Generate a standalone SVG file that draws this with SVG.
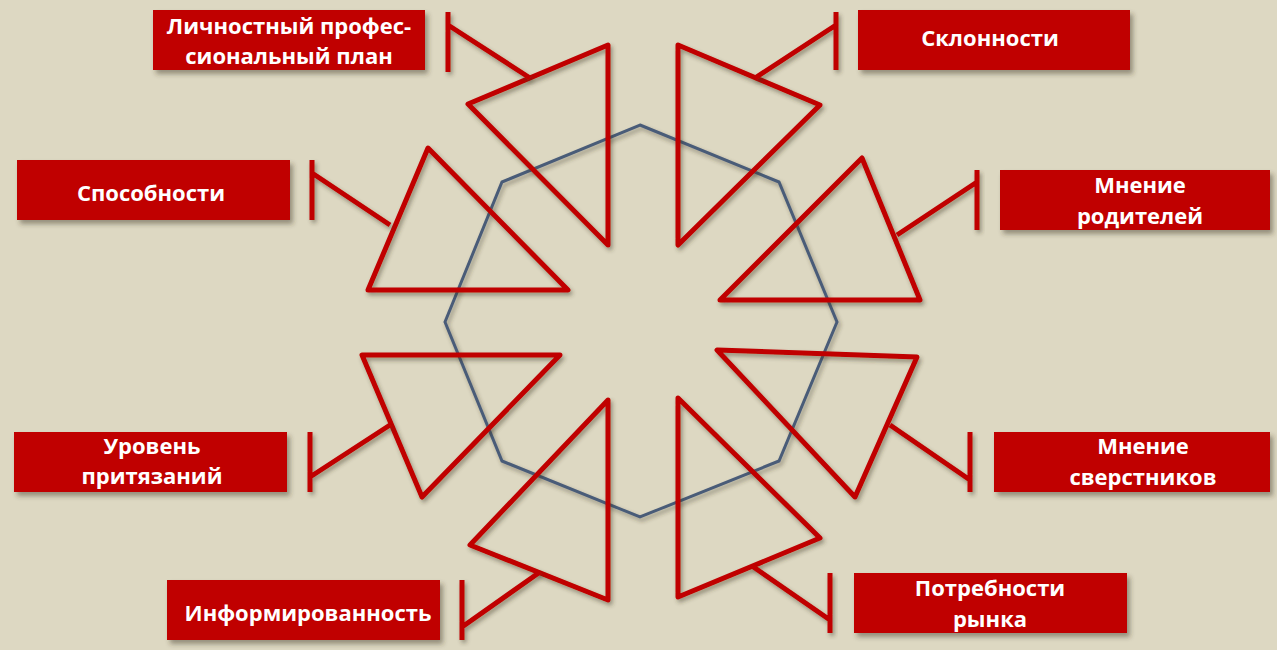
<svg xmlns="http://www.w3.org/2000/svg" width="1277" height="650" viewBox="0 0 1277 650">
<defs>
<filter id="sh" x="-20%" y="-20%" width="140%" height="140%">
<feDropShadow dx="3" dy="4" stdDeviation="2.5" flood-color="#3a3020" flood-opacity="0.45"/>
</filter>
<filter id="lsh" x="-10%" y="-10%" width="120%" height="120%">
<feDropShadow dx="2" dy="3" stdDeviation="2" flood-color="#3a3020" flood-opacity="0.45"/>
</filter>
</defs>
<style>
.box{fill:#C00000;filter:url(#sh)}
.lbl{fill:#FFFFFF;font-family:"Open Sans","Liberation Sans",sans-serif;font-weight:bold;font-size:22px;text-anchor:middle}
.tri{fill:none;stroke:#C00000;stroke-width:5;stroke-linejoin:round;filter:url(#lsh)}
.con{fill:none;stroke:#C00000;stroke-width:5;filter:url(#lsh)}
.oct{fill:none;stroke:#4A5C78;stroke-width:3;filter:url(#lsh)}
</style>
<rect width="1277" height="650" fill="#DDD8C2"/>
<g id="hub">
<polygon class="oct" points="640,125 779,182 837,322 779,461 640,517 502,461 445,322 502,182"/>
<polygon class="tri" points="468,104 608,45 608,245"/>
<polygon class="tri" points="678,45 820,105 678,245"/>
<polygon class="tri" points="862,158 920,300 720,300"/>
<polygon class="tri" points="717,350 917,357 855,497"/>
<polygon class="tri" points="678,398 820,538 678,597"/>
<polygon class="tri" points="608,400 470,545 608,600"/>
<polygon class="tri" points="362,355 560,355 422,497"/>
<polygon class="tri" points="428,148 568,290 368,290"/>
</g>
<g id="connectors">
<path class="con" d="M448,12 V72 M448,25 L530,78"/>
<path class="con" d="M836,12 V70 M836,25 L755,78"/>
<path class="con" d="M977,170 V230 M977,182 L897,235"/>
<path class="con" d="M970,432 V492 M970,480 L890,425"/>
<path class="con" d="M830,573 V633 M830,620 L752,566"/>
<path class="con" d="M462,580 V640 M462,627 L540,572"/>
<path class="con" d="M310,432 V492 M310,477 L390,425"/>
<path class="con" d="M312,160 V220 M312,173 L390,225"/>
</g>
<g id="n-plan">
<rect class="box" x="153" y="10" width="272" height="60"/>
<text class="lbl" x="289" y="34">Личностный профес-</text>
<text class="lbl" x="289" y="64">сиональный план</text>
</g>
<g id="n-sklonnosti">
<rect class="box" x="858" y="10" width="272" height="60"/>
<text class="lbl" x="990" y="46">Склонности</text>
</g>
<g id="n-roditeli">
<rect class="box" x="1000" y="170" width="270" height="60"/>
<text class="lbl" x="1140" y="193">Мнение</text>
<text class="lbl" x="1140" y="224">родителей</text>
</g>
<g id="n-sverstniki">
<rect class="box" x="994" y="432" width="276" height="60"/>
<text class="lbl" x="1143" y="454">Мнение</text>
<text class="lbl" x="1143" y="485">сверстников</text>
</g>
<g id="n-rynok">
<rect class="box" x="854" y="573" width="273" height="60"/>
<text class="lbl" x="990" y="596">Потребности</text>
<text class="lbl" x="990" y="627">рынка</text>
</g>
<g id="n-inform">
<rect class="box" x="167" y="580" width="273" height="60"/>
<text class="lbl" x="308" y="621">Информированность</text>
</g>
<g id="n-uroven">
<rect class="box" x="14" y="432" width="273" height="60"/>
<text class="lbl" x="152" y="454">Уровень</text>
<text class="lbl" x="152" y="484">притязаний</text>
</g>
<g id="n-sposobnosti">
<rect class="box" x="17" y="160" width="273" height="60"/>
<text class="lbl" x="151" y="201">Способности</text>
</g>
</svg>
